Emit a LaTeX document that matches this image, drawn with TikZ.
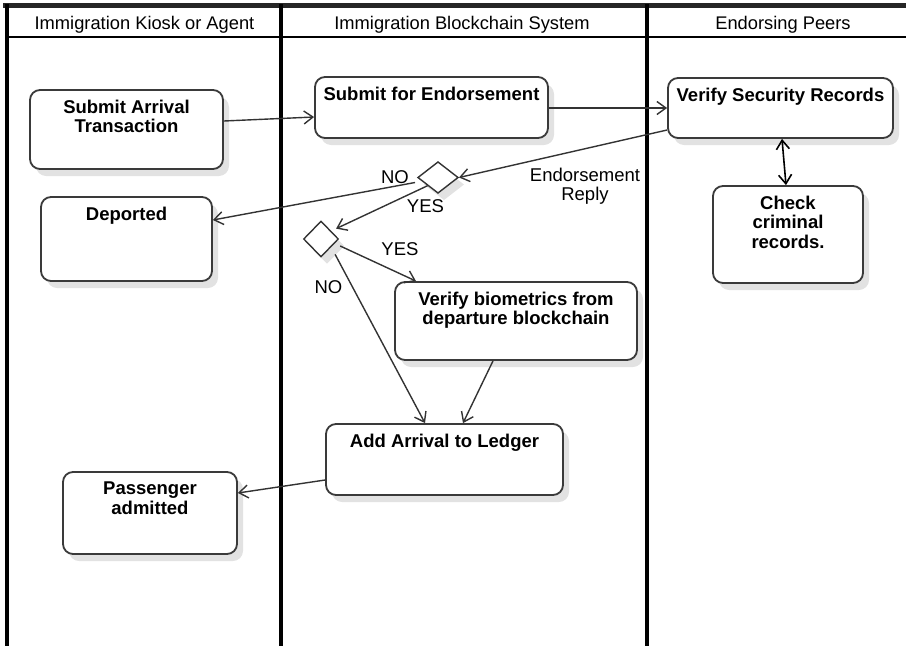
\documentclass[tikz,border=0pt]{standalone}
\usepackage{fontspec}
\setmainfont{Liberation Sans}
\usetikzlibrary{shapes.geometric,arrows.meta,shadows}

\definecolor{edgegray}{HTML}{333333}
\definecolor{framegray}{HTML}{3A3A3A}
\definecolor{shadowgray}{HTML}{E2E2E2}

% fixed-size box body with its text set at the top
\newcommand{\boxtext}[3]{\parbox[c][#2][t]{#1}{\fontsize{18.5}{19.5}\selectfont\vspace*{10pt}\centering\bfseries #3\par}}

\tikzset{
  lane/.style={line width=3.5pt, draw=black},
  boxshadow/.style={drop shadow={shadow xshift=6pt, shadow yshift=-7pt, fill=shadowgray, opacity=1}},
  actbox/.style={draw=framegray, line width=1.8pt, rounded corners=10pt, fill=white,
                 inner sep=0pt, boxshadow},
  decision/.style={diamond, draw=edgegray, line width=1.4pt, fill=white, inner sep=0pt,
                   boxshadow},
  flow/.style={draw=edgegray, line width=1.4pt, -{Straight Barb[length=9pt,width=13pt]}},
  biflow/.style={draw=black, line width=1.6pt,
                 {Straight Barb[length=9pt,width=13pt]}-{Straight Barb[length=9pt,width=13pt]}},
  lbl/.style={font=\fontsize{18.5}{19}\selectfont, inner sep=0pt, align=center},
  headtext/.style={font=\fontsize{18.3}{20}\selectfont, inner sep=0pt, anchor=base},
}

\begin{document}
\begin{tikzpicture}[x=1pt, y=-1pt]
\useasboundingbox (0,0) rectangle (906,646);

% swim lanes
\draw[line width=5pt, draw=black!85] (3,5) -- (906,5);
\draw[line width=2.6pt] (5,37) -- (906,37);
\draw[lane] (7,4) -- (7,646);
\draw[lane] (281,4) -- (281,646);
\draw[lane] (647,4) -- (647,646);

\node[headtext] (h1) at (144.5,29) {Immigration Kiosk or Agent};
\node[headtext] (h2) at (462,29) {Immigration Blockchain System};
\node[headtext] (h3) at (783,29) {Endorsing Peers};

% activities
\node[actbox] (sat)  at (126.5,129.5) {\boxtext{193pt}{79pt}{Submit Arrival\\Transaction}};
\node[actbox] (dep)  at (126.5,239)   {\boxtext{171pt}{84pt}{Deported}};
\node[actbox] (sfe)  at (431.5,107.5) {\boxtext{233pt}{61pt}{Submit for Endorsement}};
\node[actbox] (vsr)  at (780.5,108)   {\boxtext{225pt}{60pt}{Verify Security Records}};
\node[actbox] (ccr)  at (788,234.5)   {\boxtext{150pt}{97pt}{Check\\criminal\\records.}};
\node[actbox] (vbio) at (516,321)     {\boxtext{242pt}{78pt}{Verify biometrics from\\departure blockchain}};
\node[actbox] (aal)  at (444.5,459.5) {\boxtext{237pt}{71pt}{Add Arrival to Ledger}};
\node[actbox] (pa)   at (150,513)     {\boxtext{174pt}{82pt}{Passenger\\admitted}};

% decisions
\node[decision, minimum width=40.6pt, minimum height=31.6pt] (d1) at (438,177.5) {};
\node[decision, minimum width=35pt, minimum height=36pt] (d2) at (321,239) {};

% flows
\draw[flow] (sat.east |- 0,121) -- (sfe.west |- 0,117);
\draw[flow] (sfe.east |- 0,108) -- (vsr.west |- 0,108);
\draw[flow] (vsr.west |- 0,130) -- (d1.east);
\draw[flow] ([shift={(-2,5)}]d1.west) -- (dep.east |- 0,220);
\draw[flow] (d1.south west) -- ([shift={(6,-1)}]d2.north east);
\draw[flow] ([shift={(1,7)}]d2.east) -- (vbio.north -| 416,0);
\draw[flow] ([shift={(5,6)}]d2.south east) -- (aal.north -| 425,0);
\draw[flow] (vbio.south -| 493,0) -- (aal.north -| 463,0);
\draw[flow] (aal.west |- 0,480) -- (pa.east |- 0,493);
\draw[biflow] (vsr.south -| 782,0) -- (ccr.north -| 786,0);

% guard and message labels
\node[lbl, anchor=base] (no1)  at (395,183)   {NO};
\node[lbl, anchor=base] (yes1) at (425.5,212) {YES};
\node[lbl, anchor=base] (yes2) at (400,255)   {YES};
\node[lbl, anchor=base] (no2)  at (328.5,293) {NO};
\node[lbl] (reply) at (585,186.5) {Endorsement\\Reply};
\end{tikzpicture}
\end{document}
